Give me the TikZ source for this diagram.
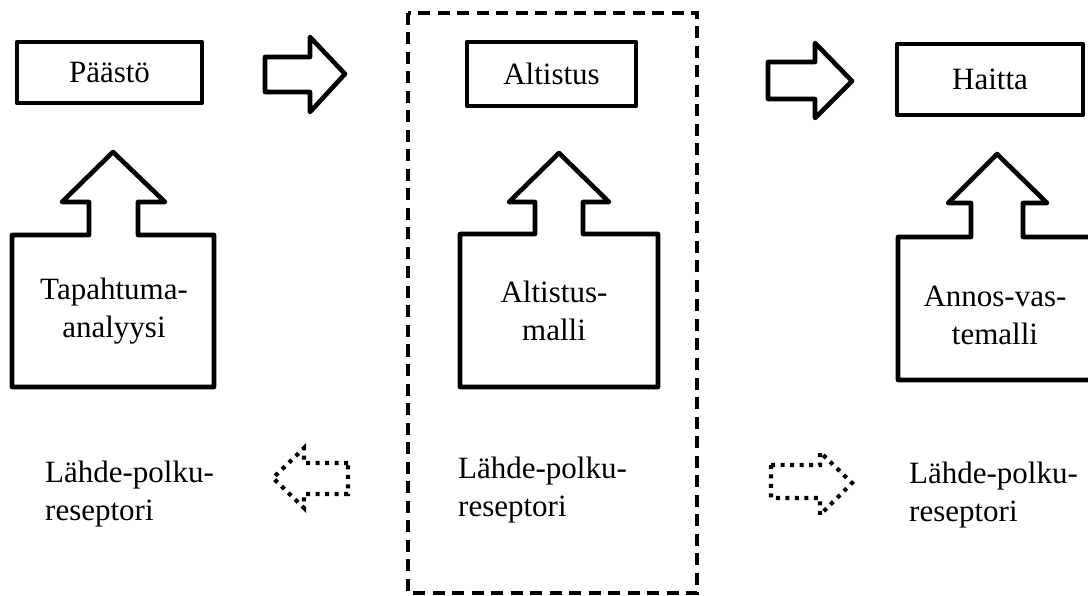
\documentclass[tikz,border=0pt]{standalone}
\usepackage{fontspec}
\setmainfont{Liberation Serif}
\begin{document}
\begin{tikzpicture}[x=1pt,y=-1pt,
  outline/.style={draw=black,line width=4.6pt,line join=round},
  dotline/.style={draw=black,line width=4.2pt,dash pattern=on 4pt off 5.5pt},
  frame/.style={draw=black,line width=4.6pt,dash pattern=on 12pt off 7.5pt},
  lbl/.style={inner sep=0pt,font=\fontsize{31}{38}\selectfont},
  ctext/.style={lbl,align=center},
  ltext/.style={lbl,align=left,anchor=west}]
\useasboundingbox (0,0) rectangle (1088,596);
\clip (0,0) rectangle (1088,596);

% dashed frame round the middle column
\draw[frame] (408,13) rectangle (697,593);

% top row: result boxes
\node[outline,minimum width=185pt,minimum height=61pt,lbl] (paasto) at (109.5,72.5) {Päästö};
\node[outline,minimum width=169pt,minimum height=64pt,lbl] (altistus) at (551.5,74) {Altistus};
\node[outline,minimum width=186pt,minimum height=71pt,lbl] (haitta) at (990,79.5) {Haitta};

% block arrows between the result boxes
\draw[outline] (265,57) -- (310,57) -- (310,37) -- (345,74) -- (310,112) -- (310,92) -- (265,92) -- cycle;
\draw[outline] (768,62) -- (815,62) -- (815,43) -- (852,81) -- (815,118) -- (815,99) -- (768,99) -- cycle;

% model blocks with an upward arrow on top
\draw[outline] (12,387) -- (12,235) -- (89,235) -- (89,202) -- (62,202) -- (113,152)
  -- (165,202) -- (138,202) -- (138,235) -- (214,235) -- (214,387) -- cycle;
\node[ctext] (tapahtuma) at (114,311) {Tapahtuma-\\analyysi};

\draw[outline] (460,387) -- (460,234) -- (535,234) -- (535,202) -- (509,202) -- (559,153)
  -- (609,202) -- (583,202) -- (583,234) -- (658,234) -- (658,387) -- cycle;
\node[ctext] (altmalli) at (554,311) {Altistus-\\malli};

\draw[outline] (898,380) -- (898,237) -- (971,237) -- (971,203) -- (948,203) -- (997,154)
  -- (1047,203) -- (1023,203) -- (1023,237) -- (1100,237) -- (1100,380) -- cycle;
\node[ctext] (annos) at (995,315) {Annos-vas-\\temalli};

% bottom row: source-path-receptor labels
\node[ltext] (lpr1) at (45,494) {Lähde-polku-\\reseptori};
\node[ltext] (lpr2) at (458,490) {Lähde-polku-\\reseptori};
\node[ltext] (lpr3) at (909,495) {Lähde-polku-\\reseptori};

% dotted block arrows
\draw[dotline] (348,463) -- (304,463) -- (304,448) -- (273,478) -- (304,508) -- (304,494) -- (348,494) -- cycle;
\draw[dotline] (771,465) -- (820,465) -- (820,452) -- (852,483) -- (820,515) -- (820,498) -- (771,498) -- cycle;
\end{tikzpicture}
\end{document}
